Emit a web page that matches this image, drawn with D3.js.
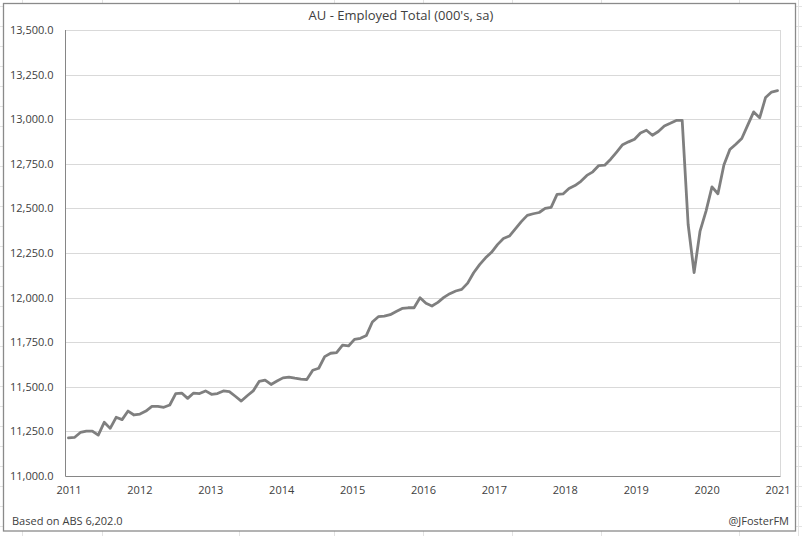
<!DOCTYPE html>
<html>
<head>
<meta charset="utf-8">
<script src="https://cdn.jsdelivr.net/npm/d3@7"></script>
<style>
  html, body { margin: 0; padding: 0; background: #ffffff; }
  svg { display: block; }
  text { font-family: "Open Sans", "Liberation Sans", sans-serif; fill: #404040; }
</style>
</head>
<body>
<svg id="chart" width="802" height="536"></svg>
<script>
// ---- Data (monthly) ----
const employed = [
  11214, 11216, 11244, 11252, 11252, 11229, 11301, 11267, 11329, 11316,
  11364, 11342, 11347, 11364, 11390, 11390, 11385, 11398, 11462, 11465,
  11435, 11465, 11462, 11477, 11458, 11462, 11477, 11473, 11447, 11420,
  11450, 11477, 11530, 11537, 11513, 11532, 11550, 11554, 11548, 11543,
  11541, 11593, 11604, 11669, 11688, 11692, 11734, 11729, 11766, 11772,
  11788, 11863, 11893, 11896, 11904, 11922, 11939, 11943, 11943, 11999,
  11968, 11953, 11973, 12001, 12022, 12037, 12046, 12081, 12139, 12185,
  12223, 12254, 12297, 12331, 12345, 12385, 12426, 12461, 12470, 12477,
  12500, 12506, 12579, 12581, 12612, 12628, 12652, 12685, 12705, 12740,
  12742, 12776, 12816, 12857, 12873, 12888, 12923, 12938, 12910, 12931,
  12962, 12977, 12993, 12993, 12410, 12140, 12373, 12485, 12621, 12582,
  12743, 12830, 12860, 12892, 12967, 13041, 13008, 13122, 13152, 13160
];
const yearLabels = ["2011","2012","2013","2014","2015","2016","2017","2018","2019","2020","2021"];
const yTicks = [11000, 11250, 11500, 11750, 12000, 12250, 12500, 12750, 13000, 13250, 13500];
const titleText = "AU - Employed Total (000's, sa)";
const sourceText = "Based on ABS 6,202.0";
const creditText = "@JFosterFM";

// ---- Layout ----
const svg = d3.select("#chart");
const W = 802, H = 536;
const plot = { left: 65.5, right: 780.5, top: 30, bottom: 476 };

// faint worksheet cell lines behind the chart object
const sheetCols = [22, 102, 239, 334, 423, 512, 601, 739, 798];
const sheetRows = d3.range(6, H, 20);
const sheet = svg.append("g").attr("stroke", "#e3e3e3").attr("stroke-width", 1);
sheet.selectAll("line.c").data(sheetCols).join("line")
  .attr("x1", d => d + 0.5).attr("x2", d => d + 0.5).attr("y1", 0).attr("y2", H);
sheet.selectAll("line.r").data(sheetRows).join("line")
  .attr("x1", 0).attr("x2", W).attr("y1", d => d + 0.5).attr("y2", d => d + 0.5);

// chart area
svg.append("rect")
  .attr("x", 3.5).attr("y", 3.5).attr("width", 792).attr("height", 527.5)
  .attr("fill", "#ffffff").attr("stroke", "#8a8a8a").attr("stroke-width", 1.3);

// ---- Scales ----
const x = d3.scalePoint()
  .domain(d3.range(employed.length))
  .range([plot.left, plot.right])
  .padding(0.5);
const xYear = d3.scaleLinear()
  .domain([0, yearLabels.length - 1])
  .range([x(0), x(employed.length - 1)]);
const y = d3.scaleLinear()
  .domain([11000, 13500])
  .range([plot.bottom, plot.top]);

// gridlines
svg.append("g").selectAll("line").data(yTicks.slice(1)).join("line")
  .attr("x1", plot.left).attr("x2", plot.right)
  .attr("y1", d => Math.round(y(d)) + 0.5).attr("y2", d => Math.round(y(d)) + 0.5)
  .attr("stroke", "#d9d9d9").attr("stroke-width", 1);
// right edge of plot area
svg.append("line")
  .attr("x1", plot.right).attr("x2", plot.right)
  .attr("y1", plot.top).attr("y2", plot.bottom)
  .attr("stroke", "#d9d9d9").attr("stroke-width", 1);

// y axis labels
const yAxis = svg.append("g")
  .attr("transform", `translate(${plot.left},0)`)
  .call(d3.axisLeft(y).tickValues(yTicks).tickSize(0).tickPadding(12)
    .tickFormat(d3.format(",.1f")));
yAxis.select(".domain").remove();
yAxis.selectAll("text").style("font-size", "11px").attr("fill", "#404040")
  .style("font-family", "'Open Sans', 'Liberation Sans', sans-serif");

// x axis labels
const xAxis = svg.append("g")
  .attr("transform", `translate(0,${plot.bottom})`)
  .call(d3.axisBottom(xYear).tickValues(d3.range(yearLabels.length)).tickSize(0).tickPadding(10)
    .tickFormat(i => yearLabels[i]));
xAxis.select(".domain").remove();
xAxis.selectAll("text").style("font-size", "11px").attr("fill", "#404040")
  .style("font-family", "'Open Sans', 'Liberation Sans', sans-serif");

// axis lines
svg.append("line")
  .attr("x1", plot.left).attr("x2", plot.left)
  .attr("y1", plot.top).attr("y2", plot.bottom + 0.5)
  .attr("stroke", "#868686").attr("stroke-width", 1);
svg.append("line")
  .attr("x1", plot.left).attr("x2", plot.right)
  .attr("y1", plot.bottom + 0.5).attr("y2", plot.bottom + 0.5)
  .attr("stroke", "#868686").attr("stroke-width", 1);

// series line
const line = d3.line()
  .x((d, i) => x(i))
  .y(d => y(d));
svg.append("path")
  .datum(employed)
  .attr("d", line)
  .attr("fill", "none")
  .attr("stroke", "#7f7f7f")
  .attr("stroke-width", 2.8)
  .attr("stroke-linejoin", "round")
  .attr("stroke-linecap", "round");

// texts
svg.append("text")
  .attr("x", 401).attr("y", 20)
  .attr("text-anchor", "middle")
  .style("font-size", "13px")
  .text(titleText);
svg.append("text")
  .attr("x", 12).attr("y", 525)
  .style("font-size", "11px")
  .text(sourceText);
svg.append("text")
  .attr("x", 789).attr("y", 525)
  .attr("text-anchor", "end")
  .style("font-size", "11px")
  .text(creditText);
</script>
</body>
</html>
